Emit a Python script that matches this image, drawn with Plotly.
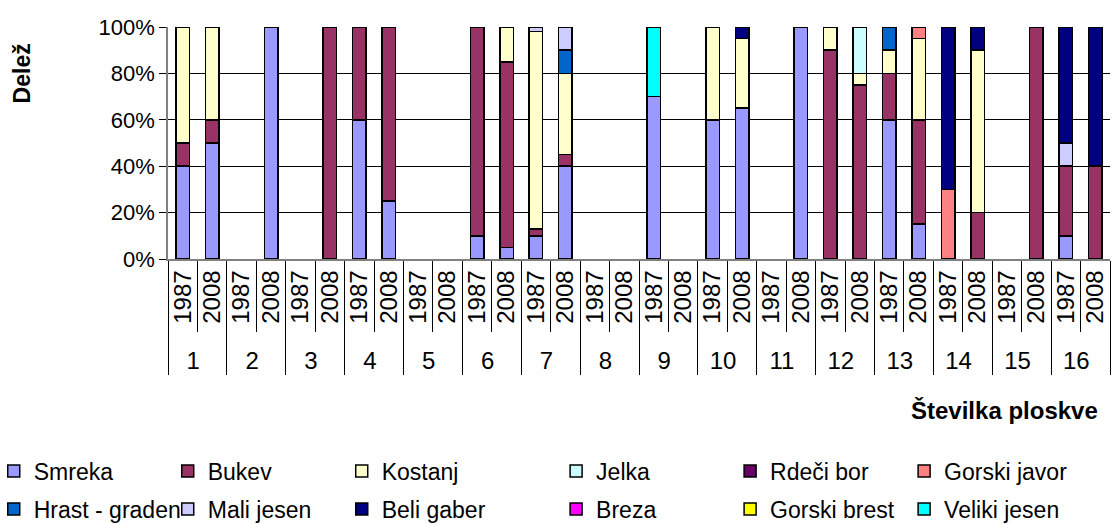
import plotly.graph_objects as go

# Plot numbers and survey years (two bars per plot)
plots = [str(i) for i in range(1, 17)]
years = ["1987", "2008"]

# Species in stacking / legend order
species = ["Smreka", "Bukev", "Kostanj", "Jelka", "Rdeči bor", "Gorski javor",
           "Hrast - graden", "Mali jesen", "Beli gaber", "Breza", "Gorski brest", "Veliki jesen"]
colors = ["#9999FF", "#993366", "#FFFFCC", "#CCFFFF", "#660066", "#FF8080",
          "#0066CC", "#CCCCFF", "#000080", "#FF00FF", "#FFFF00", "#00FFFF"]

# Share (%) per species, 32 bars: plot 1 1987, plot 1 2008, plot 2 1987, ...
smreka       = [40, 50, None, 100, None, None, 60, 25, None, None, 10, 5, 10, 40, None, None,
                70, None, 60, 65, None, 100, None, None, 60, 15, None, None, None, None, 10, None]
bukev        = [10, 10, None, None, None, 100, 40, 75, None, None, 90, 80, 3, 5, None, None,
                None, None, None, None, None, None, 90, 75, 20, 45, None, 20, None, 100, 30, 40]
kostanj      = [50, 40, None, None, None, None, None, None, None, None, None, 15, 85, 35, None, None,
                None, None, 40, 30, None, None, 10, 5, 10, 35, None, 70, None, None, None, None]
jelka        = [None] * 23 + [20] + [None] * 8
rdeci_bor    = [None] * 32
gorski_javor = [None] * 25 + [5, 30] + [None] * 5
hrast        = [None] * 13 + [10] + [None] * 10 + [10] + [None] * 7
mali_jesen   = [None] * 12 + [2, 10] + [None] * 16 + [10, None]
beli_gaber   = [None] * 19 + [5] + [None] * 6 + [70, 10, None, None, 50, 60]
breza        = [None] * 32
gorski_brest = [None] * 32
veliki_jesen = [None] * 16 + [30] + [None] * 15

values = [smreka, bukev, kostanj, jelka, rdeci_bor, gorski_javor,
          hrast, mali_jesen, beli_gaber, breza, gorski_brest, veliki_jesen]

# Y axis ticks
y_ticks = [0, 20, 40, 60, 80, 100]
y_tick_labels = ["0%", "20%", "40%", "60%", "80%", "100%"]

x_outer = [p for p in plots for _ in years]
x_inner = [y for _ in plots for y in years]

FONT = "Liberation Sans"


def legend_for(index):
    # rows of six entries, each row split into a left and a right block of three
    row, col = divmod(index, 6)
    return ["legend", "legend2", "legend3", "legend4"][row * 2 + (col >= 3)]


fig = go.Figure()
for i, (name, col, vals) in enumerate(zip(species, colors, values)):
    fig.add_trace(go.Bar(
        x=[x_outer, x_inner], y=vals, name=name,
        marker=dict(color=col, line=dict(color="black", width=1.5)),
        legend=legend_for(i),
    ))

# Legend blocks below the plot area (paper coordinates, y < 0)
legend_common = dict(
    orientation="h", xref="paper", yref="paper",
    xanchor="left", yanchor="middle",
    font=dict(family=FONT, size=23, color="black"),
    entrywidth=129, entrywidthmode="pixels",
    traceorder="normal", bgcolor="rgba(0,0,0,0)",
)
left_x, right_x = -0.185, 0.412
row1_y, row2_y = -0.914, -1.078

fig.update_layout(
    width=1113, height=524,
    margin=dict(l=168, r=3, t=27, b=265, autoexpand=False),
    paper_bgcolor="white", plot_bgcolor="white",
    barmode="stack", bargap=0.54,
    font=dict(family=FONT, size=22, color="black"),
    legend=dict(**legend_common, x=left_x, y=row1_y),
    legend2=dict(**legend_common, x=right_x, y=row1_y),
    legend3=dict(**legend_common, x=left_x, y=row2_y),
    legend4=dict(**legend_common, x=right_x, y=row2_y),
    xaxis=dict(
        type="multicategory",
        showline=True, linecolor="#808080", linewidth=1.5,
        ticks="outside", tickson="boundaries", ticklen=71, tickcolor="black",
        tickangle=-90,
        dividercolor="black", dividerwidth=1,
        tickfont=dict(family=FONT, size=24, color="black"),
        showgrid=False,
    ),
    yaxis=dict(
        range=[0, 100], tickmode="array", tickvals=y_ticks, ticktext=y_tick_labels,
        showline=True, linecolor="#808080", linewidth=1.5,
        ticks="outside", ticklen=7, tickcolor="black",
        showgrid=True, gridcolor="black", gridwidth=1,
        tickfont=dict(family=FONT, size=22, color="black"),
        zeroline=False,
    ),
    annotations=[
        dict(text="<b>Delež</b>", textangle=-90, xref="paper", yref="paper",
             x=-0.155, y=0.80, xanchor="center", yanchor="middle", showarrow=False,
             font=dict(family=FONT, size=23, color="black")),
        dict(text="<b>Številka ploskve</b>", xref="paper", yref="paper",
             x=0.989, y=-0.652, xanchor="right", yanchor="middle", showarrow=False,
             font=dict(family=FONT, size=24, color="black")),
    ],
)

fig.write_html("out.html")
